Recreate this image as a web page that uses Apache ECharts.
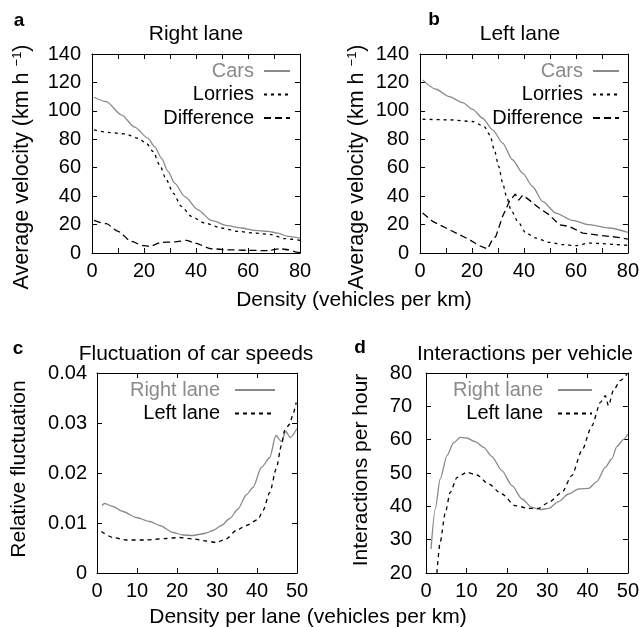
<!DOCTYPE html>
<html>
<head>
<meta charset="utf-8">
<script src="https://cdn.jsdelivr.net/npm/echarts@6/dist/echarts.min.js"></script>
<style>
html, body { margin: 0; padding: 0; background: #fff; }
#main { width: 642px; height: 627px; }
</style>
</head>
<body>
<div id="main"></div>
<script>
// a: right lane, average velocity vs density
var aCarsX = [0.8, 5.5, 11.3, 16.4, 21.5, 24.1, 26.7, 29.2, 31.8, 35.6, 40.8, 45.9, 52.3, 57.4, 62.6, 67.7, 71.5, 75.4, 80];
var aCarsY = [109.6, 106.5, 97.2, 88.5, 80.8, 74.9, 66.7, 57.4, 49.2, 39.8, 30.4, 22.9, 19.2, 17.6, 15.9, 15.2, 14.0, 11.7, 10.5];
var aLorriesX = [0.8, 6.2, 12.6, 17.7, 20.9, 23.5, 26, 28.6, 31.2, 34.4, 38.2, 43.3, 49.7, 56.2, 62.6, 69, 74, 80];
var aLorriesY = [86.6, 84.8, 83.8, 80.8, 77.3, 71.4, 62, 51.5, 42.1, 32.8, 25.8, 21.1, 17.6, 15.2, 14.0, 12.9, 10.1, 8.9];
var aDiffX = [0.8, 5.5, 10, 15.1, 19.6, 22.2, 26.7, 31.8, 36.3, 39.5, 45.9, 52.3, 60, 67.7, 72.2, 75.4, 79.2, 80];
var aDiffY = [22.9, 20.6, 15.2, 8.2, 5.2, 4.7, 7.5, 7.8, 8.9, 7.0, 3.0, 2.3, 1.9, 1.6, 3.0, 2.3, 0.5, 0.3];

// b: left lane
var bCarsX = [1, 6.2, 11.3, 16.4, 20.3, 24.1, 28, 31.8, 35.6, 39.5, 43.3, 47.2, 52.3, 58.7, 65.1, 72.8, 80];
var bCarsY = [121.8, 115.2, 110, 105.8, 101.1, 94.8, 86.6, 77.3, 65.6, 56.2, 46.8, 36.3, 28.1, 22.9, 19.9, 17.6, 14.5];
var bLorriesX = [1, 11.3, 20.3, 24.7, 26.9, 28.6, 30.3, 31.8, 33.3, 35, 37.6, 40.8, 44.6, 49.7, 54.9, 60, 65.1, 70.2, 75.4, 80];
var bLorriesY = [94.1, 93.7, 92.5, 89, 83.1, 72.6, 60.9, 49.2, 39.8, 30.4, 22.2, 14, 10.5, 7.5, 5.9, 5.2, 7, 6.6, 5.9, 5.4];
var bDiffX = [1, 4.9, 10, 15.1, 19, 22.8, 26, 27.7, 29.2, 31.8, 34.4, 36.7, 38, 39.5, 42.1, 46, 49.7, 53.6, 57.4, 62.6, 70.2, 75.4, 80];
var bDiffY = [28.1, 22.2, 17.6, 12.9, 9.4, 5.2, 2.8, 8.9, 11.7, 25.8, 36.3, 41.5, 37.2, 40.7, 37.2, 31.4, 26.9, 19.9, 18.7, 14, 12.2, 11.2, 9.8];

// c: relative fluctuation of car speeds vs density per lane
var cRightX = [1.25, 1.9, 4, 6.5, 9.8, 13.2, 15.7, 19, 21.5, 24, 26.1, 27.3, 29, 31.1, 33.2, 35.25, 37.3, 39, 41.1, 43.2, 44.7, 46.1, 47.2, 48.3, 50];
var cRightY = [0.0135, 0.0139, 0.0133, 0.0123, 0.0111, 0.0103, 0.0095, 0.0081, 0.0076, 0.0075, 0.0078, 0.0080, 0.0085, 0.0095, 0.0109, 0.0128, 0.0156, 0.0171, 0.0211, 0.0231, 0.0275, 0.0263, 0.0283, 0.0271, 0.0289];
var cLeftX = [1.1, 4, 7.3, 12.3, 17.3, 20.7, 24, 27.3, 29.8, 32.3, 34.8, 37.3, 40.25, 41.5, 43.2, 44.8, 46.1, 46.9, 48.2, 49, 49.8];
var cLeftY = [0.0083, 0.0071, 0.0066, 0.0066, 0.0069, 0.0071, 0.0068, 0.0064, 0.0061, 0.0068, 0.0085, 0.0095, 0.0107, 0.0125, 0.0161, 0.0208, 0.0255, 0.0285, 0.0298, 0.0318, 0.0341];

// d: interactions per vehicle
var dRightX = [1.24, 2.3, 3.5, 5.2, 6.8, 8.5, 10.1, 12.2, 14.3, 16.3, 18.8, 21.3, 23.8, 26.2, 28.3, 30.4, 32.8, 35.3, 37.8, 40.3, 42.3, 44.4, 46, 47.3, 48.9, 50];
var dRightY = [27.2, 39.2, 48.2, 55.2, 59, 60.7, 60.5, 59.4, 57.7, 55, 50.7, 46.2, 42.2, 39.7, 39, 39.4, 41.4, 43.7, 45.2, 45.4, 47.4, 51.7, 54.2, 58, 60, 61.7];
var dLeftX = [2.7, 3.5, 4.8, 6, 7.7, 10.1, 12.6, 15.5, 18.8, 22.1, 25.4, 27.9, 30.4, 33.7, 36.1, 38.6, 41.1, 43.2, 44.4, 45.2, 46.4, 48.1, 49.8];
var dLeftY = [20, 29.2, 38.2, 44.2, 48.7, 50.2, 49.4, 46.7, 43.7, 40.2, 39.4, 39.4, 41.2, 44.2, 49.2, 56.7, 64.2, 71.2, 73.2, 70.2, 74.7, 77.7, 79.7];

// axis ranges [min, max, tick interval, label step]
var xRanges = [[0, 80, 10, 20], [0, 80, 10, 20], [0, 50, 10, 10], [0, 50, 10, 10]];
var yRanges = [[0, 140, 20], [0, 140, 20], [0, 0.04, 0.01], [20, 80, 10]];

function pairs(xs, ys) {
    return xs.map(function (x, i) { return [x, ys[i]]; });
}

var FONT = '"Liberation Sans", Arial, sans-serif';
var GREY = '#8a8a8a';

var grids = [
    { left: 92, top: 54, width: 208, height: 199 },
    { left: 420, top: 54, width: 208, height: 199 },
    { left: 97, top: 373, width: 200, height: 200 },
    { left: 426, top: 373, width: 202, height: 200 }
];
var yLabelMargin = [11, 11, 10, 14];

var xAxes = [], yAxes = [];
grids.forEach(function (g, i) {
    var xr = xRanges[i], yr = yRanges[i];
    var line = { show: true, onZero: false, lineStyle: { color: '#000', width: 1 } };
    var tick = { show: true, inside: true, length: 5, lineStyle: { color: '#000', width: 1 } };
    var lab = { color: '#000', fontSize: 20, fontFamily: FONT };
    xAxes.push({
        gridIndex: i, type: 'value', position: 'bottom', min: xr[0], max: xr[1], interval: xr[2],
        axisLine: line, axisTick: tick, splitLine: { show: false },
        axisLabel: Object.assign({ margin: 8, formatter: function (v) { return v % xr[3] === 0 ? String(v) : ''; } }, lab)
    });
    xAxes.push({
        gridIndex: i, type: 'value', position: 'top', min: xr[0], max: xr[1], interval: xr[2],
        axisLine: line, axisTick: tick, splitLine: { show: false }, axisLabel: { show: false }
    });
    yAxes.push({
        gridIndex: i, type: 'value', position: 'left', min: yr[0], max: yr[1], interval: yr[2],
        axisLine: line, axisTick: tick, splitLine: { show: false },
        axisLabel: Object.assign({
            margin: yLabelMargin[i],
            formatter: function (v) { return i === 2 ? (v === 0 ? '0' : v.toFixed(2)) : String(v); }
        }, lab)
    });
    yAxes.push({
        gridIndex: i, type: 'value', position: 'right', min: yr[0], max: yr[1], interval: yr[2],
        axisLine: line, axisTick: tick, splitLine: { show: false }, axisLabel: { show: false }
    });
});

function lineSeries(name, panel, data, color, dash) {
    return {
        type: 'line', name: name, xAxisIndex: panel * 2, yAxisIndex: panel * 2,
        data: data, symbol: 'none', showSymbol: false,
        smooth: 0.25, smoothMonotone: 'x',
        lineStyle: { color: color, width: 1.3, type: dash },
        itemStyle: { color: color }
    };
}

var series = [
    lineSeries('Cars', 0, pairs(aCarsX, aCarsY), GREY, 'solid'),
    lineSeries('Lorries', 0, pairs(aLorriesX, aLorriesY), '#000', [3, 4]),
    lineSeries('Difference', 0, pairs(aDiffX, aDiffY), '#000', [7, 4]),
    lineSeries('Cars', 1, pairs(bCarsX, bCarsY), GREY, 'solid'),
    lineSeries('Lorries', 1, pairs(bLorriesX, bLorriesY), '#000', [3, 4]),
    lineSeries('Difference', 1, pairs(bDiffX, bDiffY), '#000', [7, 4]),
    lineSeries('Right lane', 2, pairs(cRightX, cRightY), GREY, 'solid'),
    lineSeries('Left lane', 2, pairs(cLeftX, cLeftY), '#000', [4, 4]),
    lineSeries('Right lane', 3, pairs(dRightX, dRightY), GREY, 'solid'),
    lineSeries('Left lane', 3, pairs(dLeftX, dLeftY), '#000', [4, 4])
];
series[5].smooth = false;

function legend(names, right, top, itemWidth, gap) {
    return {
        data: names.map(function (n, k) { return k === 0 ? { name: n, textStyle: { color: GREY } } : n; }),
        orient: 'vertical', align: 'right', right: right, top: top, padding: 0,
        itemWidth: itemWidth, itemHeight: 10, itemGap: 3.5, selectedMode: false,
        itemStyle: { opacity: 0 },
        textStyle: { fontSize: 20, fontFamily: FONT, color: '#000', padding: [0, gap, 0, 0] }
    };
}

function txt(s, x, y, size, weight, rot) {
    return {
        type: 'text', x: x, y: y, rotation: rot || 0, z: 100,
        style: { text: s, fontSize: size, fontFamily: FONT, fontWeight: weight || 'normal', fill: '#000', textAlign: 'center', textVerticalAlign: 'middle' }
    };
}
function velocityLabel(x) {
    return {
        type: 'text', x: x, y: 167, rotation: Math.PI / 2, z: 100,
        style: {
            text: 'Average velocity (km h {s|\u22121})', fontSize: 21.5, fontFamily: FONT, fill: '#000',
            textAlign: 'center', textVerticalAlign: 'middle',
            rich: { s: { fontSize: 13, fontFamily: FONT, fill: '#000', verticalAlign: 'top' } }
        }
    };
}

var option = {
    animation: false,
    backgroundColor: '#fff',
    grid: grids,
    xAxis: xAxes,
    yAxis: yAxes,
    legend: [
        legend(['Cars', 'Lorries', 'Difference'], 351, 61, 26, 5),
        legend(['Cars', 'Lorries', 'Difference'], 22, 61, 26, 5),
        legend(['Right lane', 'Left lane'], 366, 380, 40, 10),
        legend(['Right lane', 'Left lane'], 49, 380, 34, 10)
    ],
    graphic: [
        txt('a', 19, 21, 19, '900'),
        txt('b', 434, 20, 19, '900'),
        txt('c', 18, 349, 19, '900'),
        txt('d', 360, 348, 19, '900'),
        txt('Right lane', 196, 34, 21),
        txt('Left lane', 520, 34, 21),
        txt('Fluctuation of car speeds', 196, 354, 21),
        txt('Interactions per vehicle', 525, 354, 21),
        txt('Density (vehicles per km)', 354, 300, 21),
        txt('Density per lane (vehicles per km)', 308, 617, 21),
        velocityLabel(22),
        velocityLabel(357),
        txt('Relative fluctuation', 19, 469, 21, 'normal', Math.PI / 2),
        txt('Interactions per hour', 361, 470, 21, 'normal', Math.PI / 2)
    ],
    series: series
};

var chart = echarts.init(document.getElementById('main'));
chart.setOption(option);
</script>
</body>
</html>
